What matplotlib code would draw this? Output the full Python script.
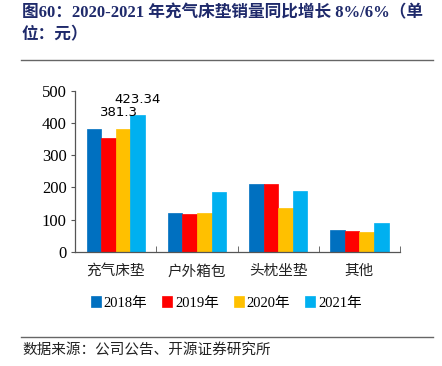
import matplotlib
matplotlib.use("Agg")
import matplotlib.pyplot as plt
import numpy as np

categories = ["充气床垫", "户外箱包", "头枕坐垫", "其他"]
years = ["2018年", "2019年", "2020年", "2021年"]
values = {
    "2018年": [380, 119, 212, 68],
    "2019年": [353, 116, 209, 66],
    "2020年": [381.3, 119, 135, 63],
    "2021年": [423.34, 185, 188, 88],
}
colors = ["#0070C0", "#FF0000", "#FFC000", "#00B0F0"]
yticks = [0, 100, 200, 300, 400, 500]
title = "图60：2020-2021 年充气床垫销量同比增长 8%/6%（单\n位：元）"
source = "数据来源：公司公告、开源证券研究所"

serif = ["Liberation Serif", "Noto Sans CJK SC"]
cjk = ["Noto Sans CJK SC", "DejaVu Sans"]
plt.rcParams["font.family"] = cjk

fig = plt.figure(figsize=(4.42, 3.66), dpi=100)
ax = fig.add_axes([0.170, 0.312, 0.735, 0.440])

x = np.arange(len(categories))
w = 0.18
for i, (yr, c) in enumerate(zip(years, colors)):
    ax.bar(x + (i - 1.5) * w, values[yr], width=w, color=c, edgecolor=c, linewidth=0.5, label=yr)

# data labels for first category, 2020 and 2021
for i in (2, 3):
    yr = years[i]
    v = values[yr][0]
    ax.annotate(f"{v:g}", (x[0] + (i - 1.5) * w, v), xytext=(-3 if i == 2 else 0, 7),
                textcoords="offset points", ha="center", va="bottom",
                fontsize=9.5, family="DejaVu Sans")

ax.set_xlim(-0.5, len(categories) - 0.5)
ax.set_ylim(0, 500)
ax.set_yticks(yticks)
ax.set_yticklabels([str(t) for t in yticks], family=serif, fontsize=12)
ax.set_xticks(x)
ax.set_xticklabels(categories, family=cjk, fontsize=10.5, color="#222222")
ax.tick_params(axis="x", length=0, pad=9)
ax.set_xticks(np.arange(len(categories) + 1) - 0.5, minor=True)
ax.tick_params(axis="x", which="minor", direction="in", length=4, color="#555555")
ax.tick_params(axis="y", direction="out", length=3, color="#555555", pad=3)
for s in ("top", "right"):
    ax.spines[s].set_visible(False)
for s in ("left", "bottom"):
    ax.spines[s].set_color("#555555")
    ax.spines[s].set_linewidth(0.9)

leg = fig.legend(loc="center", bbox_to_anchor=(0.512, 1 - 303 / 366), ncol=4, frameon=False,
                 prop={"family": serif, "size": 10.5}, handlelength=0.7, handleheight=0.7,
                 handletextpad=0.2, columnspacing=1.0)

fig.text(22 / 442, 1 - 24 / 366, title, ha="left", va="center", fontsize=12, fontweight="bold",
         color="#1F2A6B", family=["Liberation Serif", "Noto Sans CJK SC"], linespacing=1.45)
fig.add_artist(plt.Line2D([21 / 442, 433 / 442], [1 - 60 / 366, 1 - 60 / 366], color="#666666", linewidth=1))
fig.add_artist(plt.Line2D([21 / 442, 433 / 442], [1 - 337 / 366, 1 - 337 / 366], color="#666666", linewidth=1))
fig.text(22 / 442, 1 - 351 / 366, source, ha="left", va="center", fontsize=10.5, color="#222222", family=cjk)

fig.savefig("out.png", dpi=100)
